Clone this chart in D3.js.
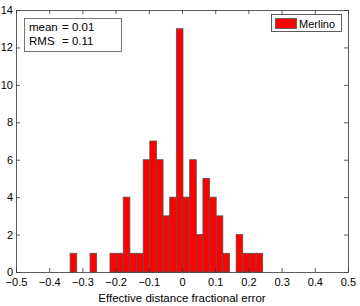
<!DOCTYPE html>
<html><head><meta charset="utf-8">
<script src="https://cdn.jsdelivr.net/npm/d3@7"></script>
<style>body{margin:0;background:#fff;}svg{display:block;font-family:"Liberation Sans",Arial,sans-serif;}</style>
</head><body>
<script>
const binCenters = [-0.327,-0.307,-0.287,-0.267,-0.247,-0.227,-0.207,-0.187,-0.167,-0.147,-0.127,-0.107,-0.087,-0.067,-0.047,-0.027,-0.007,0.013,0.033,0.053,0.073,0.093,0.113,0.133,0.153,0.173,0.193,0.213,0.233];
const counts = [1,0,0,1,0,0,1,1,4,1,1,6,7,6,3,4,13,4,6,2,5,4,3,1,0,2,1,1,1];
const binWidth = 0.02;
const xTicks = [-0.5,-0.4,-0.3,-0.2,-0.1,0,0.1,0.2,0.3,0.4,0.5];
const yTicks = [0,2,4,6,8,10,12,14];
const seriesName = "Merlino";
const statNames = ["mean", "RMS"];
const statValues = ["= 0.01", "= 0.11"];
const xLabel = "Effective distance fractional error";

const W = 360, H = 306;
const m = {l:16, r:12, t:10, b:34};
const svg = d3.select("body").append("svg").attr("width", W).attr("height", H);
const x = d3.scaleLinear().domain([-0.5,0.5]).range([m.l, W-m.r]);
const y = d3.scaleLinear().domain([0,14]).range([H-m.b, m.t]);
const fmt = d => d === 0 ? "0" : d3.format(".1f")(d).replace("-", "\u2212");

svg.append("g").selectAll("rect").data(binCenters.map((c,i)=>({c, n:counts[i]})).filter(d=>d.n>0))
  .join("rect")
  .attr("x", d => x(d.c - binWidth/2))
  .attr("width", d => x(d.c + binWidth/2) - x(d.c - binWidth/2))
  .attr("y", d => y(d.n))
  .attr("height", d => y(0) - y(d.n))
  .attr("fill", "#ff0000").attr("stroke", "#555").attr("stroke-width", 0.8);

const axColor = "#333";
const tl = 4;
const gx = svg.append("g").attr("transform", `translate(0,${y(0)})`)
  .call(d3.axisBottom(x).tickValues(xTicks).tickFormat(fmt).tickSizeInner(-tl).tickSizeOuter(0).tickPadding(6));
const gxt = svg.append("g").attr("transform", `translate(0,${y(14)})`)
  .call(d3.axisTop(x).tickValues(xTicks).tickFormat("").tickSizeInner(-tl).tickSizeOuter(0));
const gy = svg.append("g").attr("transform", `translate(${x(-0.5)},0)`)
  .call(d3.axisLeft(y).tickValues(yTicks).tickSizeInner(-tl).tickSizeOuter(0).tickPadding(3));
const gyr = svg.append("g").attr("transform", `translate(${x(0.5)},0)`)
  .call(d3.axisRight(y).tickValues(yTicks).tickFormat("").tickSizeInner(-tl).tickSizeOuter(0));
[gx,gxt,gy,gyr].forEach(g => {
  g.selectAll("path,line").attr("stroke", axColor).attr("stroke-width", 0.8);
  g.selectAll("text").attr("fill", "#000").style("font-size", "11px").style("font-family", "'Liberation Sans',Arial,sans-serif");
});

svg.append("text").attr("x", (x(-0.5)+x(0.5))/2).attr("y", 302).attr("text-anchor","middle")
  .style("font-size","11.5px").text(xLabel);

svg.append("rect").attr("x", 24.5).attr("y", 18.5).attr("width", 97).attr("height", 33)
  .attr("fill", "#fff").attr("stroke", "#555").attr("stroke-width", 0.8);
const sg = svg.append("g");
sg.selectAll("text.n").data(statNames).join("text").attr("class","n")
  .attr("x", 29).attr("y", (d,i) => 31 + i*14).style("font-size","11.5px").text(d => d);
sg.selectAll("text.v").data(statValues).join("text").attr("class","v")
  .attr("x", 62).attr("y", (d,i) => 31 + i*14).style("font-size","11.5px").text(d => d);

svg.append("rect").attr("x", 271.5).attr("y", 14.5).attr("width", 70).attr("height", 17)
  .attr("fill","#fff").attr("stroke","#333").attr("stroke-width",0.8);
svg.append("rect").attr("x", 275.5).attr("y", 18.5).attr("width", 21).attr("height", 10)
  .attr("fill","#ff0000").attr("stroke","#555").attr("stroke-width",0.8);
svg.append("text").attr("x", 299).attr("y", 27.5).style("font-size","11px").text(seriesName);
</script>
</body></html>
